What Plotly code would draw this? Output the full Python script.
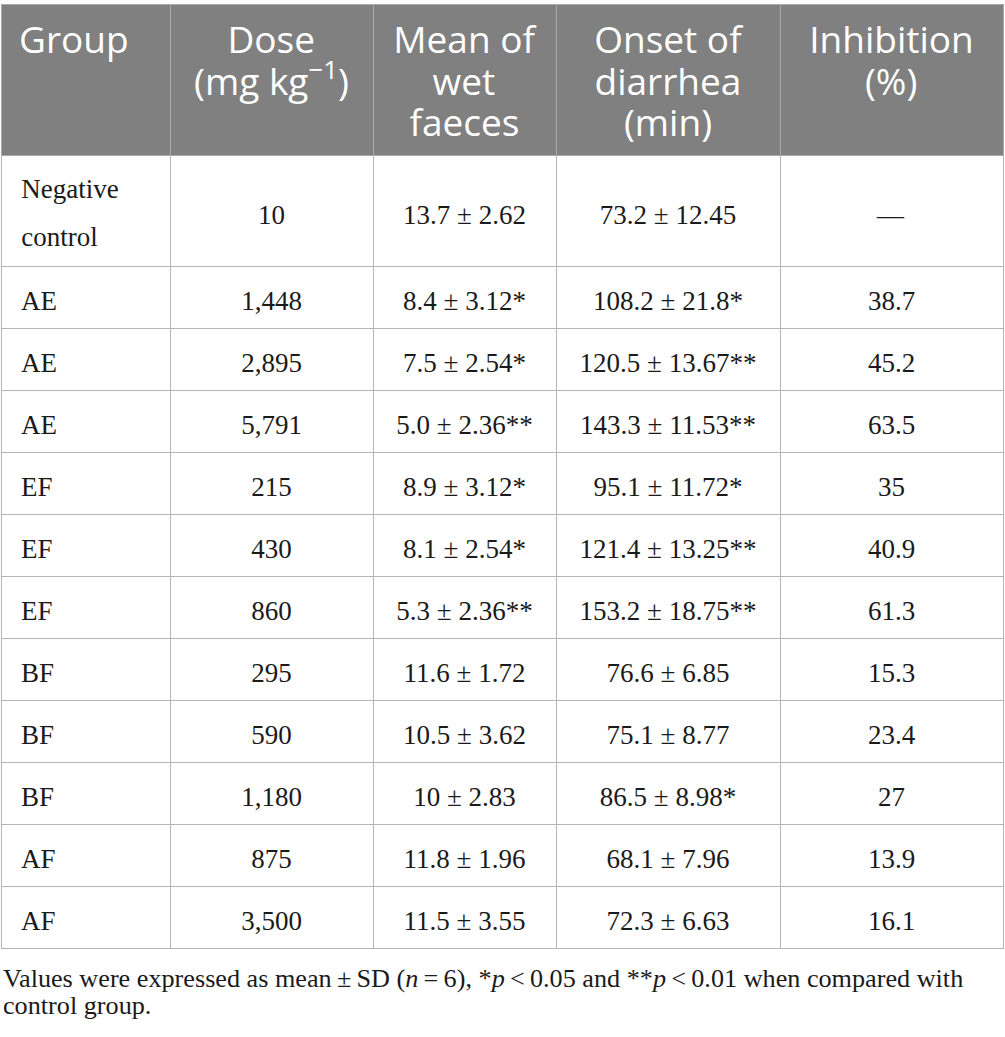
import numpy as np
import plotly.graph_objects as go

# table data
headers = [["Group"], ["Dose", "(mg kg<sup>\u22121</sup>)"], ["Mean of", "wet", "faeces"],
           ["Onset of", "diarrhea", "(min)"], ["Inhibition", "(%)"]]
groups = ["Negative<br>control", "AE", "AE", "AE", "EF", "EF", "EF", "BF", "BF", "BF", "AF", "AF"]
doses = [10, 1448, 2895, 5791, 215, 430, 860, 295, 590, 1180, 875, 3500]
wet_mean = ["13.7", "8.4", "7.5", "5.0", "8.9", "8.1", "5.3", "11.6", "10.5", "10", "11.8", "11.5"]
wet_sd = ["2.62", "3.12", "2.54", "2.36", "3.12", "2.54", "2.36", "1.72", "3.62", "2.83", "1.96", "3.55"]
wet_sig = ["", "*", "*", "**", "*", "*", "**", "", "", "", "", ""]
onset_mean = ["73.2", "108.2", "120.5", "143.3", "95.1", "121.4", "153.2", "76.6", "75.1", "86.5", "68.1", "72.3"]
onset_sd = ["12.45", "21.8", "13.67", "11.53", "11.72", "13.25", "18.75", "6.85", "8.77", "8.98", "7.96", "6.63"]
onset_sig = ["", "*", "**", "**", "*", "**", "**", "", "", "*", "", ""]
inhibition = ["\u2014", "38.7", "45.2", "63.5", "35", "40.9", "61.3", "15.3", "23.4", "27", "13.9", "16.1"]
footnote = ["Values were expressed as mean\u2009\u00b1\u2009SD (<i>n</i>\u2009=\u20096), "
            "*<i>p</i>\u2009&lt;\u20090.05 and **<i>p</i>\u2009&lt;\u20090.01 when compared with",
            "control group."]

NB = "\u00a0"
BODY = 27      # glyph size of body text
HEAD = 37      # glyph size of header text
SP = 0.2598    # nbsp advance in Open Sans (em)

# rough Open Sans advance widths (em), used to centre each header line
OS_W = {" ": .260, "(": .291, ")": .291, "%": .831, "\u2212": .572, "1": .572,
        "D": .740, "M": .903, "O": .781, "I": .263,
        "a": .556, "b": .604, "c": .476, "d": .604, "e": .561, "f": .339, "g": .548,
        "h": .614, "i": .253, "k": .518, "l": .253, "m": .921, "n": .614, "o": .604,
        "r": .408, "s": .467, "t": .352, "w": .803}


def span(txt, size):
    return "<span style='font-size:%.2fpx'>%s</span>" % (size, txt)


def head_width(line):
    w = 0.0
    for k, part in enumerate(line.replace("</sup>", "<sup>").split("<sup>")):
        w += sum(OS_W.get(ch, .6) for ch in part) * (0.7 if k % 2 else 1.0)
    return w * HEAD


def pad(px):
    if px <= 0.2:
        return ""
    full = SP * HEAD
    n = int(px // full)
    rest = px - n * full
    out = span(NB * n, HEAD) if n else ""
    if rest > 0.2:
        out += span(NB, rest / SP)
    return out


def head_cell(lines, left=False):
    lead = span(NB, 38.6)
    if left:
        return lead + span(lines[0], HEAD) + "<br>"
    widths = [head_width(ln) for ln in lines]
    lead_w = SP * 38.6
    full = max([widths[0] + 2 * lead_w] + widths[1:])
    out = []
    for i, (ln, w) in enumerate(zip(lines, widths)):
        if i == 0:
            p = pad((full - w - 2 * lead_w) / 2)
            out.append(lead + p + span(ln, HEAD) + p + lead)
        else:
            p = pad((full - w) / 2)
            out.append(p + span(ln, HEAD) + p)
    return "<br>".join(out)


def body_cell(txt, row, left=False):
    if row == 0:
        if "<br>" in txt:
            return "<br>".join(span(NB, 39.8) + span("\u200a" + ln, BODY) for ln in txt.split("<br>"))
        return span(NB, 27.6) + "<br>" + span(txt, BODY) + "<br>" + span(NB, 1)
    pre = span(NB, 38.8)
    if left:
        return pre + "\u200a" + txt + "<br>"
    return pre + txt + pre + "<br>"


dose_txt = ["{:,}".format(d) for d in doses]
wet_txt = ["%s \u00b1 %s%s" % v for v in zip(wet_mean, wet_sd, wet_sig)]
onset_txt = ["%s \u00b1 %s%s" % v for v in zip(onset_mean, onset_sd, onset_sig)]

columns = [groups, dose_txt, wet_txt, onset_txt, inhibition]
cell_values = [[body_cell(t, r, left=(c == 0)) for r, t in enumerate(col)]
               for c, col in enumerate(columns)]
header_values = [head_cell(h, left=(i == 0)) for i, h in enumerate(headers)]

# line spacing per cell comes from the cell font size
size_grid = np.full((5, len(groups)), float(BODY))
size_grid[0, 0] = 36.7
size_grid[1:, 0] = 27.1

fig = go.Figure(go.Table(
    columnwidth=[169, 203, 183, 224, 223],
    header=dict(
        values=header_values,
        align=["left", "center", "center", "center", "center"],
        fill_color="#808080",
        line=dict(color="#a9a9a9", width=1),
        font=dict(family="Open Sans", size=32.1, color="white"),
        height=151,
    ),
    cells=dict(
        values=cell_values,
        align=["left", "center", "center", "center", "center"],
        fill_color="white",
        line=dict(color="#b5b5b5", width=1),
        font=dict(family="Liberation Serif", size=size_grid, color="#1a1a1a"),
        height=62,
    ),
))

fig.add_annotation(
    text="<br>".join(span(ln, 26.2) for ln in footnote),
    xref="paper", yref="paper", x=0, y=0, xanchor="left", yanchor="top",
    xshift=0, yshift=-5, align="left", showarrow=False,
    font=dict(family="Liberation Serif", size=20.8, color="#1a1a1a"),
)

fig.update_layout(
    width=1005, height=1037,
    margin=dict(l=1, r=2, t=4, b=80),
    paper_bgcolor="white",
)

fig.write_html("out.html", config={"displayModeBar": False},
               post_script="document.body.style.margin='0';")
